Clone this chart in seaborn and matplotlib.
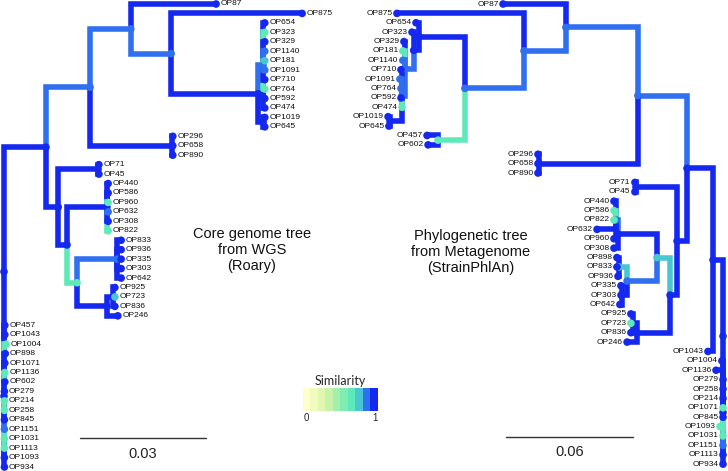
import matplotlib.pyplot as plt
import seaborn as sns
import numpy as np
import pandas as pd
from matplotlib.colors import ListedColormap, Normalize
from matplotlib.cm import ScalarMappable
from matplotlib.transforms import blended_transform_factory

sns.set_theme(style='white')
plt.rcParams['font.family'] = ['Liberation Sans', 'DejaVu Sans']

''' Similarity colour scale (10 classes, 0 -> 1) '''
sim_colors = ['#ffffcc', '#f1fbbd', '#e0f7b0', '#c6f3a8', '#a4efaa',
              '#80ebb2', '#5eeab8', '#48c6d2', '#2f6ff0', '#1428f0']
cmap = ListedColormap(sim_colors)
norm = Normalize(0, 1)

''' Core genome tree from WGS (Roary) '''
wgs_nodes = ['root', 'a', 'c', 'd', 'f', 'g', 'g1', 'g2', 'e', 'h', 'h1',
             'j', 'j1', 'i', 'l', 'k', 'k1', 'b']
wgs_node_parent = [None, 'root', 'a', 'c', 'd', 'f', 'g', 'g', 'c', 'a', 'h',
                   'h', 'j', 'j', 'i', 'i', 'k', 'root']
wgs_node_depth = [0.0, 0.0100, 0.0205, 0.0302, 0.0398, 0.0605, 0.0617, 0.0617,
                  0.0400, 0.0129, 0.0224, 0.0150, 0.0245, 0.0174, 0.0269,
                  0.0245, 0.0260, 0.0]
wgs_node_sim = [0.95, 0.95, 0.85, 0.85, 0.85, 0.95, 0.85, 0.95, 0.95, 0.95,
                0.95, 0.95, 0.95, 0.65, 0.85, 0.95, 0.95, 0.95]

wgs_tips = ['OP87', 'OP875', 'OP654', 'OP323', 'OP329', 'OP1140', 'OP181',
            'OP1091', 'OP710', 'OP764', 'OP592', 'OP474', 'OP1019', 'OP645',
            'OP296', 'OP658', 'OP890', 'OP71', 'OP45', 'OP440', 'OP586',
            'OP960', 'OP632', 'OP308', 'OP822', 'OP833', 'OP936', 'OP335',
            'OP303', 'OP642', 'OP925', 'OP723', 'OP836', 'OP246', 'OP457',
            'OP1043', 'OP1004', 'OP898', 'OP1071', 'OP1136', 'OP602', 'OP279',
            'OP214', 'OP258', 'OP845', 'OP1151', 'OP1031', 'OP1113', 'OP1093',
            'OP934']
wgs_tip_parent = ['d', 'f'] + ['g1'] * 10 + ['g2'] * 2 + ['e'] * 3 + ['h1'] * 2 \
    + ['j1'] * 6 + ['l'] * 5 + ['k1'] * 3 + ['k'] + ['b'] * 16
wgs_tip_depth = [0.0505, 0.0710, 0.0621, 0.0621, 0.0621, 0.0621, 0.0621,
                 0.0621, 0.0621, 0.0621, 0.0621, 0.0621, 0.0621, 0.0621,
                 0.0402, 0.0402, 0.0402, 0.0226, 0.0226, 0.0248, 0.0248,
                 0.0248, 0.0248, 0.0248, 0.0248, 0.0279, 0.0279, 0.0279,
                 0.0279, 0.0279, 0.0264, 0.0264, 0.0264, 0.0271, 0.0002,
                 0.0002, 0.0005, 0.0003, 0.0002, 0.0002, 0.0002, 0.0001,
                 0.0001, 0.0001, 0.0001, 0.0001, 0.0001, 0.0001, 0.0001, 0.0001]
wgs_tip_sim = [0.95, 0.95, 0.95, 0.65, 0.95, 0.85, 0.75, 0.85, 0.95, 0.65,
               0.95, 0.95, 0.95, 0.95, 0.95, 0.95, 0.95, 0.95, 0.95, 0.95,
               0.95, 0.65, 0.85, 0.95, 0.65, 0.95, 0.95, 0.95, 0.95, 0.95,
               0.95, 0.75, 0.95, 0.95, 0.95, 0.95, 0.65, 0.95, 0.95, 0.65,
               0.95, 0.95, 0.65, 0.65, 0.95, 0.85, 0.65, 0.65, 0.95, 0.95]

''' Phylogenetic tree from Metagenome (StrainPhlAn) '''
meta_nodes = ['root', 'y', 'w', 'v', 'p', 'q', 'r', 's', 's2', 's3', 'u2',
              'v2', 't', 'e296', 'x', 'h71', 'x2', 'x3', 'a3', 'a3a', 'b3',
              'tl', 'bl', 'c4', 'c5', 'comb']
meta_node_parent = [None, 'root', 'y', 'w', 'v', 'p', 'q', 'r', 's', 's2', 's3',
                    'u2', 'r', 'v', 'w', 'x', 'x', 'x2', 'x3', 'a3', 'x3',
                    'b3', 'b3', 'x2', 'c4', 'root']
meta_node_depth = [0.0, 0.0047, 0.0170, 0.0402, 0.0742, 0.0940, 0.1219, 0.1436,
                   0.1461, 0.1502, 0.1516, 0.1573, 0.1346, 0.0869, 0.0217,
                   0.0411, 0.0250, 0.0312, 0.0496, 0.0505, 0.0453, 0.0491,
                   0.0477, 0.0406, 0.0425, 0.0]
meta_node_sim = [0.95, 0.95, 0.95, 0.85, 0.85, 0.85, 0.85, 0.95, 0.95, 0.85,
                 0.85, 0.95, 0.65, 0.95, 0.95, 0.95, 0.95, 0.75, 0.95, 0.85,
                 0.85, 0.75, 0.95, 0.95, 0.95, 0.95]

meta_tips = ['OP87', 'OP875', 'OP654', 'OP323', 'OP329', 'OP181', 'OP1140',
             'OP710', 'OP1091', 'OP764', 'OP592', 'OP474', 'OP1019', 'OP645',
             'OP457', 'OP602', 'OP296', 'OP658', 'OP890', 'OP71', 'OP45',
             'OP440', 'OP586', 'OP822', 'OP632', 'OP960', 'OP308', 'OP898',
             'OP833', 'OP936', 'OP335', 'OP303', 'OP642', 'OP925', 'OP723',
             'OP836', 'OP246', 'OP1043', 'OP1004', 'OP1136', 'OP279', 'OP258',
             'OP214', 'OP1071', 'OP845', 'OP1093', 'OP1031', 'OP1151', 'OP1113',
             'OP934']
meta_tip_parent = ['p', 'q', 's', 's2'] + ['s3'] * 3 + ['u2'] * 5 + ['v2'] * 2 \
    + ['t'] * 2 + ['e296'] * 3 + ['h71'] * 2 + ['a3a'] * 5 + ['a3'] \
    + ['tl'] * 3 + ['bl'] * 3 + ['c5'] * 3 + ['c4'] + ['y'] + ['comb'] * 12
meta_tip_depth = [0.1039, 0.1540, 0.1450, 0.1469, 0.1507, 0.1512, 0.1512,
                  0.1521, 0.1526, 0.1521, 0.1521, 0.1516, 0.1582, 0.1578,
                  0.1398, 0.1393, 0.0874, 0.0874, 0.0874, 0.0416, 0.0416,
                  0.0515, 0.0515, 0.0515, 0.0595, 0.0515, 0.0515, 0.0501,
                  0.0501, 0.0496, 0.0482, 0.0482, 0.0487, 0.0435, 0.0435,
                  0.0435, 0.0453, 0.0071, 0.0005, 0.0033, 0.0, 0.0, 0.0, 0.0,
                  0.0, 0.0014, 0.0, 0.0, 0.0, 0.0]
meta_tip_sim = [0.95, 0.95, 0.95, 0.95, 0.95, 0.65, 0.85, 0.95, 0.85, 0.85,
                0.95, 0.65, 0.95, 0.95, 0.95, 0.95, 0.95, 0.95, 0.95, 0.95,
                0.95, 0.95, 0.65, 0.65, 0.95, 0.95, 0.95, 0.95, 0.95, 0.95,
                0.95, 0.95, 0.95, 0.95, 0.65, 0.95, 0.95, 0.95, 0.95, 0.95,
                0.95, 0.95, 0.95, 0.65, 0.95, 0.65, 0.65, 0.85, 0.95, 0.95]


def build_tree(nodes, node_parent, node_depth, node_sim,
               tips, tip_parent, tip_depth, tip_sim):
    df = pd.DataFrame({
        'name': nodes + tips,
        'parent': node_parent + tip_parent,
        'depth': node_depth + tip_depth,
        'sim': node_sim + tip_sim,
        'is_tip': [False] * len(nodes) + [True] * len(tips),
    }).set_index('name')
    children = df.dropna(subset=['parent']).groupby('parent').groups
    y = {t: i for i, t in enumerate(tips)}

    # internal node sits halfway between its outermost children
    def place(n):
        if n not in y:
            ys = [place(c) for c in children[n]]
            y[n] = (min(ys) + max(ys)) / 2
        return y[n]

    place(nodes[0])
    df['y'] = df.index.map(y)
    df['px'] = df['parent'].map(df['depth'])
    df['py'] = df['parent'].map(df['y'])
    return df


def draw_tree(ax, df, side):
    br = df.dropna(subset=['parent']).copy()
    br['span'] = (br['y'] - br['py']).abs()
    for name, b in br.sort_values('span', ascending=False).iterrows():
        ax.plot([b.px, b.px, b.depth], [b.py, b.y, b.y],
                color=cmap(norm(b.sim)), lw=4.0,
                solid_joinstyle='miter', solid_capstyle='butt', zorder=2)
    sns.scatterplot(data=df.reset_index(), x='depth', y='y', hue='sim',
                    palette=cmap, hue_norm=norm, s=30, linewidth=0,
                    legend=False, ax=ax, zorder=3)
    for name, t in df[df['is_tip']].iterrows():
        ax.annotate(name, (t.depth, t.y), xytext=(3.2 * side, 0),
                    textcoords='offset points', va='center',
                    ha='left' if side > 0 else 'right', fontsize=6,
                    color='#111111')
    ax.set_axis_off()


wgs = build_tree(wgs_nodes, wgs_node_parent, wgs_node_depth, wgs_node_sim,
                 wgs_tips, wgs_tip_parent, wgs_tip_depth, wgs_tip_sim)
meta = build_tree(meta_nodes, meta_node_parent, meta_node_depth, meta_node_sim,
                  meta_tips, meta_tip_parent, meta_tip_depth, meta_tip_sim)

fig = plt.figure(figsize=(7.28, 4.71), dpi=100)
fig.patch.set_facecolor('white')

ax_l = fig.add_axes([0, 0, 1, 1])
draw_tree(ax_l, wgs, 1)
ax_l.set_xlim(-0.00095, 0.1724)
ax_l.set_ylim(49.42, -0.423)

ax_r = fig.add_axes([0, 0, 1, 1])
ax_r.patch.set_alpha(0)
draw_tree(ax_r, meta, -1)
ax_r.set_xlim(0.3415, -0.00236)
ax_r.set_ylim(49.73, -0.426)

# Scale bars
tl = blended_transform_factory(ax_l.transData, ax_l.transAxes)
ax_l.plot([0.0181, 0.0181 + 0.03], [0.070, 0.070], transform=tl,
          color='#333333', lw=1)
ax_l.text(0.0181 + 0.015, 0.037, '0.03', transform=tl, ha='center',
          va='center', fontsize=10.5, color='#222222')
tr = blended_transform_factory(ax_r.transData, ax_r.transAxes)
ax_r.plot([0.0425, 0.0425 + 0.06], [0.072, 0.072], transform=tr,
          color='#333333', lw=1)
ax_r.text(0.0425 + 0.03, 0.041, '0.06', transform=tr, ha='center',
          va='center', fontsize=10.5, color='#222222')

# Titles
fig.text(0.346, 0.469, 'Core genome tree\nfrom WGS\n(Roary)', ha='center',
         va='center', fontsize=10.5, linespacing=1.2, color='#111111')
fig.text(0.647, 0.465, 'Phylogenetic tree\nfrom Metagenome\n(StrainPhlAn)',
         ha='center', va='center', fontsize=10.5, linespacing=1.2,
         color='#111111')

# Similarity colour bar
cax = fig.add_axes([0.416, 0.127, 0.103, 0.049])
cb = fig.colorbar(ScalarMappable(norm=norm, cmap=cmap), cax=cax,
                  orientation='horizontal')
cb.outline.set_visible(False)
cb.set_ticks([0.04, 0.96], labels=['0', '1'])
cax.tick_params(length=0, labelsize=7, pad=1)
cax.set_title('Similarity', fontsize=9, pad=2, family=['Lato', 'DejaVu Sans'])

fig.savefig('out.png', dpi=100)
